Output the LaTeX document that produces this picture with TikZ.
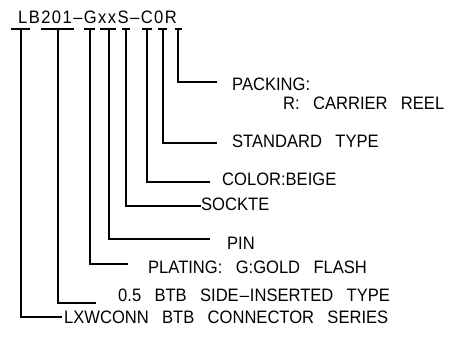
\documentclass[tikz,border=0pt]{standalone}
\usepackage{fontspec}
\setmainfont[FakeStretch=0.92, WordSpace=2.9]{Liberation Sans}
\newfontfamily\pnfont[FakeStretch=0.92, LetterSpace=8]{Liberation Sans}
\usetikzlibrary{positioning}

\begin{document}
\begin{tikzpicture}[x=1pt, y=-1pt,
	lbl/.style={anchor=west, inner sep=0pt, font=\fontsize{18}{20}\selectfont},
	lead/.style={line width=1.1pt}]

	\useasboundingbox (0,0) rectangle (473,343);

	% part number on top, one tick below each field
	\node[lbl, font=\fontsize{18}{20}\pnfont] (pn) at (18,17.5) {LB201\textendash GxxS\textendash C0R};

	% tick points under the part number: (x,29)
	\coordinate (T1) at (21,29);
	\coordinate (T2) at (58,29);
	\coordinate (T3) at (90,29);
	\coordinate (T4) at (109,29);
	\coordinate (T5) at (126,29);
	\coordinate (T6) at (147,29);
	\coordinate (T7) at (163,29);
	\coordinate (T8) at (178,29);

	% where each leader stops
	\coordinate (E1) at (62,317);
	\coordinate (E2) at (96,303);
	\coordinate (E3) at (128,264);
	\coordinate (E4) at (210,239);
	\coordinate (E5) at (201,206);
	\coordinate (E6) at (210,182);
	\coordinate (E7) at (217,143);
	\coordinate (E8) at (217,82);

	% descriptions
	\node[lbl] (series)  at (64,317)  {LXWCONN BTB CONNECTOR SERIES};
	\node[lbl] (type)    at (118,295) {0.5 BTB SIDE\kern1pt\textendash\kern1pt INSERTED TYPE};
	\node[lbl] (plating) at (148,267) {PLATING: G:GOLD FLASH};
	\node[lbl] (pin)     at (227,243) {PIN};
	\node[lbl] (sockte)  at (201,204) {SOCKTE};
	\node[lbl] (color)   at (222,179) {COLOR:BEIGE};
	\node[lbl] (std)     at (232,141) {STANDARD TYPE};
	\node[lbl] (pack)    at (232,84)  {PACKING:};
	\node[lbl] (reel)    at (283,103) {R: CARRIER REEL};

	%%%%%%%%%%%%%%%%%%%%%%%%%%%%%%%%%%%%%%%%%%%%%%%%%%%%%%%%%%%%%%
	% underlines
	\draw[lead] ([xshift=-10pt]T1) -- ([xshift=9pt]T1);
	\draw[lead] ([xshift=-17pt]T2) -- ([xshift=16pt]T2);
	\draw[lead] ([xshift=-6pt]T3) -- ([xshift=5pt]T3);
	\draw[lead] ([xshift=-9pt]T4) -- ([xshift=7pt]T4);
	\draw[lead] ([xshift=-4pt]T5) -- ([xshift=4pt]T5);
	\draw[lead] ([xshift=-5pt]T6) -- ([xshift=5pt]T6);
	\draw[lead] ([xshift=-5pt]T7) -- ([xshift=4pt]T7);
	\draw[lead] ([xshift=-3pt]T8) -- ([xshift=4pt]T8);

	% leaders
	\draw[lead] (T1) |- (E1);
	\draw[lead] (T2) |- (E2);
	\draw[lead] (T3) |- (E3);
	\draw[lead] (T4) |- (E4);
	\draw[lead] (T5) |- (E5);
	\draw[lead] (T6) |- (E6);
	\draw[lead] (T7) |- (E7);
	\draw[lead] (T8) |- (E8);

\end{tikzpicture}
\end{document}
